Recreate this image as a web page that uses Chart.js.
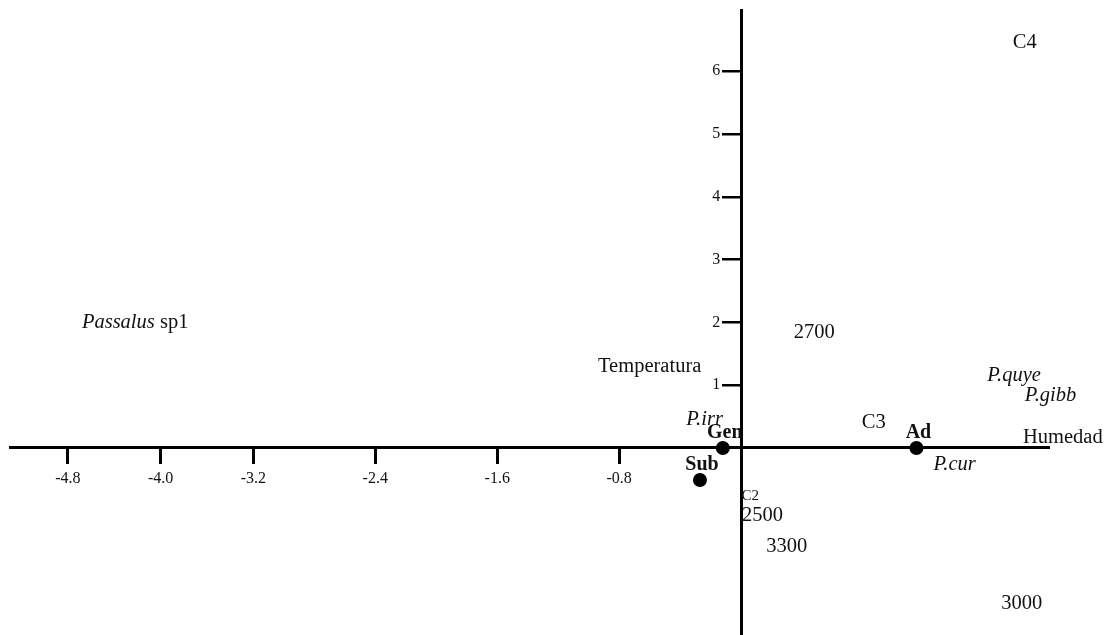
<!DOCTYPE html>
<html>
<head>
<meta charset="utf-8">
<script src="https://cdn.jsdelivr.net/npm/chart.js@4.4.1/dist/chart.umd.min.js"></script>
<style>
  html, body { margin: 0; background: #fff; }
</style>
</head>
<body>
<canvas id="biplot" width="1114" height="635"></canvas>
<script>
// axis ticks
const xTicks = [-4.8, -4.0, -3.2, -2.4, -1.6, -0.8];
const yTicks = [1, 2, 3, 4, 5, 6];

// life stages (filled points)
const stageNames = ['Gen', 'Sub', 'Ad'];
const stageX = [-0.12, -0.27, 1.15];
const stageY = [0, -0.51, 0];

// species, sites, altitudes and variables (text only)
const noteTexts = ['C4', 'Passalus sp1', '2700', 'Temperatura', 'P.quye', 'P.gibb', 'P.irr', 'C3', 'Humedad', 'P.cur', 'C2', '2500', '3300', '3000'];
const noteX = [1.86, -4.22, 0.48, -0.60, 1.79, 2.03, -0.24, 0.87, 2.11, 1.40, 0.06, 0.14, 0.30, 1.84];
const noteY = [6.46, 2.00, 1.84, 1.29, 1.15, 0.83, 0.45, 0.41, 0.16, -0.27, -0.76, -1.08, -1.57, -2.48];
const noteKind = ['site', 'genus', 'altitude', 'variable', 'species', 'species', 'species', 'site', 'variable', 'species', 'site', 'altitude', 'altitude', 'altitude'];

// the original x axis is squeezed left of -3.2
const BREAK = -3.2, SQUEEZE = 0.76;
const warp = v => v < BREAK ? BREAK + (v - BREAK) * SQUEEZE : v;
const unwarp = v => v < BREAK ? BREAK + (v - BREAK) / SQUEEZE : v;

class BrokenScale extends Chart.LinearScale {
  configure() {
    super.configure();
    this._startValue = warp(this.min);
    this._endValue = warp(this.max);
    this._valueRange = this._endValue - this._startValue;
  }
  getPixelForValue(v) { return super.getPixelForValue(warp(v)); }
  getValueForPixel(p) { return unwarp(super.getValueForPixel(p)); }
}
BrokenScale.id = 'broken';
BrokenScale.defaults = Chart.LinearScale.defaults;

// centred y axis: push the labels left of the tick marks
class CrossY extends Chart.LinearScale {
  _computeLabelItems(area) {
    const items = super._computeLabelItems(area);
    const shift = this.options.grid.tickLength + this.options.ticks.padding;
    items.forEach(it => { it.options.translation[0] -= shift; });
    return items;
  }
}
CrossY.id = 'crossY';
CrossY.defaults = Chart.LinearScale.defaults;
Chart.register(BrokenScale, CrossY);

const SERIF = '"Liberation Serif", "Times New Roman", serif';
const TEXT = 20.5;

const noteLabels = {
  id: 'noteLabels',
  afterDatasetsDraw(chart) {
    const { ctx, scales: { x, y } } = chart;
    ctx.save();
    ctx.fillStyle = '#111';
    ctx.textBaseline = 'middle';

    noteTexts.forEach((t, i) => {
      const px = x.getPixelForValue(noteX[i]);
      const py = y.getPixelForValue(noteY[i]);
      const kind = noteKind[i];
      if (kind === 'genus') {
        const words = t.split(' ');
        const genus = words[0], rest = ' ' + words.slice(1).join(' ');
        ctx.font = `italic ${TEXT}px ${SERIF}`;
        const w1 = ctx.measureText(genus).width;
        ctx.font = `${TEXT}px ${SERIF}`;
        const w2 = ctx.measureText(rest).width;
        const left = px - (w1 + w2) / 2;
        ctx.textAlign = 'left';
        ctx.font = `italic ${TEXT}px ${SERIF}`;
        ctx.fillText(genus, left, py);
        ctx.font = `${TEXT}px ${SERIF}`;
        ctx.fillText(rest, left + w1, py);
        return;
      }
      const size = t === 'C2' ? 15 : TEXT;
      ctx.font = (kind === 'species' ? 'italic ' : '') + `${size}px ${SERIF}`;
      ctx.textAlign = 'center';
      ctx.fillText(t, px, py);
    });

    ctx.font = `bold 20px ${SERIF}`;
    ctx.textAlign = 'center';
    stageNames.forEach((t, i) => {
      const px = x.getPixelForValue(stageX[i]);
      const py = y.getPixelForValue(stageY[i]);
      ctx.fillText(t, px + 2, py - 15);
    });
    ctx.restore();
  }
};

const axisStyle = (tickLength, tickWidth, pad) => ({
  border: { display: true, color: '#000', width: 3 },
  grid: { drawOnChartArea: false, drawTicks: true, tickLength, tickWidth, lineWidth: tickWidth, color: '#000' },
  ticks: { color: '#111', font: { family: SERIF, size: 16 }, padding: pad }
});

// keep the plot area on the full canvas height
const noPad = s => { s.paddingTop = 0; s.paddingBottom = 0; s.paddingLeft = 0; s.paddingRight = 0; };

new Chart(document.getElementById('biplot'), {
  type: 'scatter',
  data: {
    datasets: [{
      data: stageX.map((v, i) => ({ x: v, y: stageY[i] })),
      backgroundColor: '#000',
      borderWidth: 0,
      pointRadius: 7,
      pointHoverRadius: 7,
      clip: false
    }]
  },
  options: {
    responsive: false,
    animation: false,
    layout: { autoPadding: false, padding: { left: 10, right: 66, top: 10, bottom: 0 } },
    plugins: { legend: { display: false }, tooltip: { enabled: false } },
    scales: {
      x: {
        type: 'broken',
        position: { y: 0 },
        min: -5.3,
        max: 2.013,
        afterBuildTicks: s => { s.ticks = xTicks.map(value => ({ value })); },
        afterFit: noPad,
        ...axisStyle(15, 3, 6),
        ticks: { ...axisStyle(15, 3, 6).ticks, callback: v => v.toFixed(1) }
      },
      y: {
        type: 'crossY',
        position: { x: 0 },
        min: -2.978,
        max: 6.975,
        afterBuildTicks: s => { s.ticks = yTicks.map(value => ({ value })); },
        afterFit: noPad,
        ...axisStyle(18, 2.5, 3)
      }
    }
  },
  plugins: [noteLabels]
});
</script>
</body>
</html>
